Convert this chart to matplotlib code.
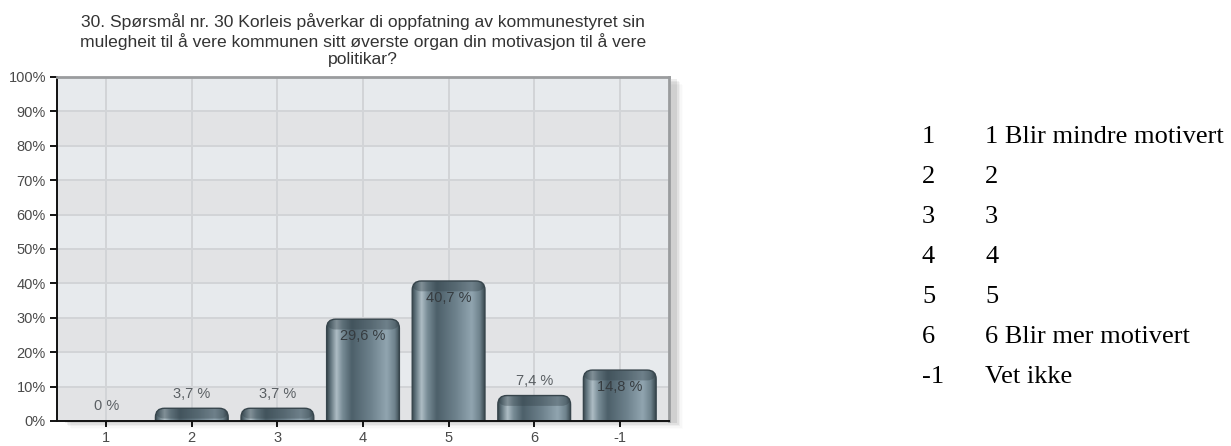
import matplotlib

matplotlib.use("Agg")
import matplotlib.pyplot as plt
import numpy as np
from matplotlib.colors import LinearSegmentedColormap
from matplotlib.patches import FancyBboxPatch, Rectangle

# data
categories = ["1", "2", "3", "4", "5", "6", "-1"]
percent = [0.0, 3.7, 3.7, 29.6, 40.7, 7.4, 14.8]
value_labels = ["0 %", "3,7 %", "3,7 %", "29,6 %", "40,7 %", "7,4 %", "14,8 %"]
y_ticks = [0, 10, 20, 30, 40, 50, 60, 70, 80, 90, 100]
y_tick_labels = [f"{t}%" for t in y_ticks]
title = (
    "30. Spørsmål nr. 30 Korleis påverkar di oppfatning av kommunestyret sin\n"
    "mulegheit til å vere kommunen sitt øverste organ din motivasjon til å vere\n"
    "politikar?"
)
legend_codes = ["1", "2", "3", "4", "5", "6", "-1"]
legend_texts = ["1 Blir mindre motivert", "2", "3", "4", "5", "6 Blir mer motivert", "Vet ikke"]

W, H = 1231, 446
fig = plt.figure(figsize=(W / 100, H / 100), dpi=100)
fig.patch.set_facecolor("white")

# plot area in pixels: x 57..669, y 77..421
ax_left, ax_right, ax_top, ax_bottom = 57, 669, 77, 421
ax = fig.add_axes(
    [ax_left / W, 1 - ax_bottom / H, (ax_right - ax_left) / W, (ax_bottom - ax_top) / H]
)

# soft drop shadow to the right and below the plot area
for i, a in enumerate([0.07, 0.05, 0.035, 0.02, 0.01]):
    off = 2 + i * 1.5
    fig.patches.append(
        Rectangle(
            ((ax_left + off + 6) / W, 1 - (ax_bottom + off) / H),
            (ax_right - ax_left) / W,
            (ax_bottom - ax_top) / H,
            transform=fig.transFigure,
            facecolor="#000000",
            alpha=a,
            edgecolor="none",
            zorder=-5,
        )
    )

ax.set_facecolor("#e6e9ec")
ax.set_zorder(1)

x = np.arange(len(categories))
xmin, xmax = -0.575, len(categories) - 1 + 0.575
ax.set_xlim(xmin, xmax)
ax.set_ylim(0, 100)

# alternating background bands
for lo, hi in zip(y_ticks[:-1], y_ticks[1:]):
    col = "#e2e3e5" if (lo // 10) % 2 == 0 else "#e7eaed"
    ax.axhspan(lo, hi, facecolor=col, edgecolor="none", zorder=0)

for t in y_ticks[1:-1]:
    ax.axhline(t, color="#d2d4d7", linewidth=1.4, zorder=1)
for xi in x:
    ax.axvline(xi, color="#d2d4d7", linewidth=1.4, zorder=1)

bar_width = 0.85
bars = ax.bar(x, percent, width=bar_width, color="#5f737d", zorder=2)

cmap = LinearSegmentedColormap.from_list(
    "cyl",
    [
        (0.0, "#39484f"),
        (0.05, "#63767f"),
        (0.13, "#aebdc5"),
        (0.21, "#798d97"),
        (0.34, "#4d606a"),
        (0.6, "#6d818c"),
        (0.82, "#91a5b0"),
        (0.93, "#6f838d"),
        (1.0, "#39484f"),
    ],
)
grad = np.linspace(0, 1, 256).reshape(1, -1)

px_per_x = (ax_right - ax_left) / (xmax - xmin)
px_per_y = (ax_bottom - ax_top) / 100.0
aspect = px_per_x / px_per_y
radius = 9 / px_per_x

for rect in bars:
    h = rect.get_height()
    rect.set_visible(False)
    if h <= 0:
        continue
    bx, bw = rect.get_x(), rect.get_width()
    extra = 6.0
    shape = FancyBboxPatch(
        (bx, -extra),
        bw,
        h + extra,
        boxstyle=f"round,pad=0,rounding_size={radius}",
        mutation_aspect=aspect,
        facecolor="none",
        edgecolor="#37454c",
        linewidth=1.0,
        zorder=4,
    )
    ax.add_patch(shape)
    im = ax.imshow(
        grad, extent=[bx, bx + bw, 0, h], aspect="auto", cmap=cmap, zorder=3,
        interpolation="bilinear",
    )
    im.set_clip_path(shape)
    # darker rim along the rounded top
    top_rim = FancyBboxPatch(
        (bx, h - 3.0),
        bw,
        3.0,
        boxstyle=f"round,pad=0,rounding_size={radius}",
        mutation_aspect=aspect,
        facecolor="#2f3d44",
        alpha=0.35,
        edgecolor="none",
        zorder=3.5,
    )
    ax.add_patch(top_rim)
    top_rim.set_clip_path(shape)

ax.set_xlim(xmin, xmax)
ax.set_ylim(0, 100)

for xi, v, lab in zip(x, percent, value_labels):
    if v >= 10:
        ax.text(xi, v - 17 / px_per_y, lab, ha="center", va="center",
                fontsize=10.5, color="#363c40", family="Liberation Sans", zorder=6)
    else:
        ax.text(xi, v + 14.5 / px_per_y, lab, ha="center", va="center",
                fontsize=10.5, color="#5a5f63", family="Liberation Sans", zorder=6)

ax.set_xticks(x)
ax.set_xticklabels(categories)
ax.set_yticks(y_ticks)
ax.set_yticklabels(y_tick_labels)
ax.tick_params(axis="x", direction="out", length=4, width=1.3, pad=3,
               labelsize=10.5, labelcolor="#4a4a4a")
ax.tick_params(axis="y", direction="out", length=5, width=1.3, pad=3,
               labelsize=10.5, labelcolor="#4a4a4a")
for lab in ax.get_xticklabels() + ax.get_yticklabels():
    lab.set_family("Liberation Sans")

ax.spines["left"].set_color("#111111")
ax.spines["left"].set_linewidth(1.4)
ax.spines["bottom"].set_color("#111111")
ax.spines["bottom"].set_linewidth(1.4)
ax.spines["top"].set_color("#9a9c9e")
ax.spines["top"].set_linewidth(2.0)
ax.spines["right"].set_color("#9a9c9e")
ax.spines["right"].set_linewidth(2.0)
for s in ax.spines.values():
    s.set_zorder(7)

fig.text((ax_left + ax_right) / 2 / W, 1 - 40 / H, title, ha="center", va="center",
         fontsize=12.6, color="#333333", family="Liberation Sans", linespacing=1.2)

# legend table on the right
for i, (code, txt) in enumerate(zip(legend_codes, legend_texts)):
    yy = 1 - (137 + 40 * i) / H
    fig.text(922 / W, yy, code, ha="left", va="center", fontsize=19,
             family="Liberation Serif", color="black")
    fig.text(985 / W, yy, txt, ha="left", va="center", fontsize=19,
             family="Liberation Serif", color="black")

fig.savefig("out.png", dpi=100, facecolor=fig.get_facecolor())
